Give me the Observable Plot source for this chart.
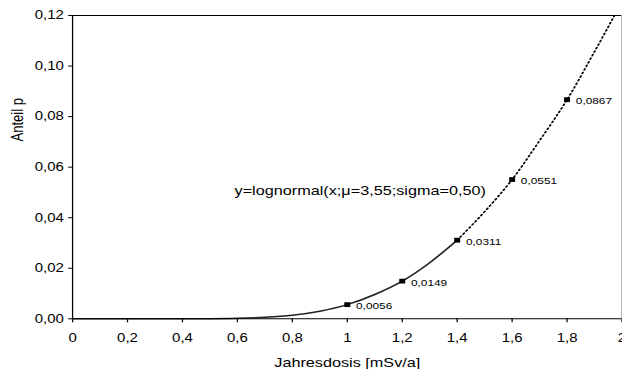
<!DOCTYPE html>
<html>
<head>
<meta charset="utf-8">
<script src="https://cdn.jsdelivr.net/npm/d3@7"></script>
<script src="https://cdn.jsdelivr.net/npm/@observablehq/plot@0.6"></script>
<style>
  html, body { margin: 0; padding: 0; background: white; }
</style>
</head>
<body>
<div id="chart"></div>
<script>
// Solid part of the fitted curve
const solidX = [0, 0.1, 0.2, 0.3, 0.4, 0.5, 0.6, 0.7, 0.8, 0.9, 1.0, 1.1, 1.2, 1.3, 1.4];
const solidY = [0, 0, 0, 0, 0, 0.00004, 0.0002, 0.0006, 0.0014, 0.0030, 0.0056, 0.0096, 0.0149, 0.0222, 0.0311];
// Dotted extrapolation
const dottedX = [1.4, 1.5, 1.6, 1.7, 1.8, 1.9, 2.0];
const dottedY = [0.0311, 0.0424, 0.0551, 0.0705, 0.0867, 0.1057, 0.1255];
// Marked points with labels
const pointX = [1.0, 1.2, 1.4, 1.6, 1.8];
const pointY = [0.0056, 0.0149, 0.0311, 0.0551, 0.0867];
const pointLabels = ["0,0056", "0,0149", "0,0311", "0,0551", "0,0867"];
// Axes
const xTicks = [0, 0.2, 0.4, 0.6, 0.8, 1.0, 1.2, 1.4, 1.6, 1.8, 2.0];
const yTicks = [0, 0.02, 0.04, 0.06, 0.08, 0.10, 0.12];
const xTitle = "Jahresdosis [mSv/a]";
const yTitle = "Anteil p";
const annotationText = ["y=lognormal(x;μ=3,55;sigma=0,50)"];
const annotationX = [1.047];
const annotationY = [0.0505];

const solid = solidX.map((x, i) => ({x, y: solidY[i]}));
const dotted = dottedX.map((x, i) => ({x, y: dottedY[i]}));
const points = pointX.map((x, i) => ({x, y: pointY[i], label: pointLabels[i]}));
const annotation = annotationText.map((t, i) => ({x: annotationX[i], y: annotationY[i], t}));

const fmtX = d => (Number.isInteger(d) ? String(d) : d3.format(".1f")(d).replace(".", ","));
const fmtY = d => d3.format(".2f")(d).replace(".", ",");

const W = 498, H = 369; // drawn narrow, displayed stretched to 622 wide like the reference

const svg = Plot.plot({
  width: W,
  height: H,
  marginLeft: 57.6,
  marginRight: 0.5,
  marginTop: 15,
  marginBottom: 50.7,
  style: {fontFamily: "'Liberation Sans', Arial, sans-serif", fontSize: "12px", background: "white", color: "black"},
  x: {domain: [0, 2], ticks: xTicks, tickFormat: fmtX, tickSize: 4, tickPadding: 11, label: null},
  y: {domain: [0, 0.12], ticks: yTicks, tickFormat: fmtY, tickSize: 3, tickPadding: 4, label: null},
  marks: [
    Plot.ruleY([0.12], {stroke: "black", strokeWidth: 1}),
    Plot.ruleX([2], {stroke: "#888", strokeWidth: 1}),
    Plot.lineY(solid, {x: "x", y: "y", curve: "monotone-x", stroke: "#222", strokeWidth: 1.5}),
    Plot.lineY(dotted, {x: "x", y: "y", curve: "monotone-x", stroke: "black", strokeWidth: 1.5, strokeDasharray: "1.3,2.6", clip: true}),
    Plot.ruleY([0], {stroke: "black", strokeWidth: 1}),
    Plot.ruleX([0], {stroke: "black", strokeWidth: 1}),
    Plot.dot(points, {x: "x", y: "y", symbol: "square", r: 2.7, fill: "black", stroke: null}),
    Plot.text(points, {x: "x", y: "y", text: "label", dx: 7, dy: 1.5, textAnchor: "start", lineAnchor: "middle", fontSize: 9.5, fill: "black"}),
    Plot.text(annotation, {x: "x", y: "y", text: "t", textAnchor: "middle", lineAnchor: "middle", fontSize: 13, fill: "black"}),
    Plot.text([xTitle], {frameAnchor: "bottom", dy: 43.7, lineAnchor: "middle", fontSize: 13, fill: "black"}),
    Plot.text([yTitle], {frameAnchor: "left", dx: -43.6, dy: -25.7, rotate: -90, lineAnchor: "middle", fontSize: 13, fill: "black"})
  ]
});

svg.setAttribute("viewBox", `0 0 ${W} ${H}`);
svg.setAttribute("width", 622);
svg.setAttribute("height", 369);
svg.setAttribute("preserveAspectRatio", "none");
svg.style.width = "622px";
svg.style.height = "369px";
svg.style.maxWidth = "none";
document.getElementById("chart").appendChild(svg);
</script>
</body>
</html>
